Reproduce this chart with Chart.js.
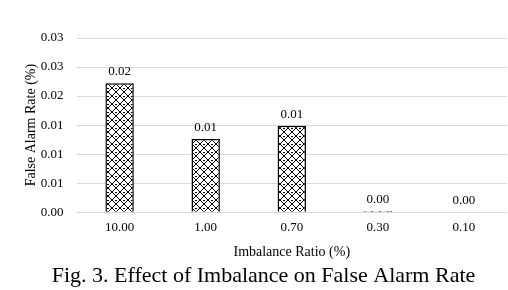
<!DOCTYPE html>
<html>
<head>
<meta charset="utf-8">
<script src="https://cdn.jsdelivr.net/npm/chart.js@4.4.0/dist/chart.umd.min.js"></script>
<style>
  html, body { margin: 0; padding: 0; background: #ffffff; }
  #wrap { width: 508px; height: 290px; position: relative; }
</style>
</head>
<body>
<div id="wrap"><canvas id="grafica"></canvas></div>
<script>
// Datos
const categorias = ['10.00', '1.00', '0.70', '0.30', '0.10'];
const tasaFalsaAlarma = [0.0222, 0.0126, 0.0149, 0.0002, 0.0];
const ticksY = [0, 0.005, 0.01, 0.015, 0.02, 0.025, 0.03];

const fuente = "'Liberation Serif', 'Times New Roman', serif";

// Patrón de rejilla cruzada para las barras
const crearPatron = () => {
    const n = 8;
    const c = document.createElement('canvas');
    c.width = n;
    c.height = n;
    const g = c.getContext('2d');
    g.fillStyle = '#ffffff';
    g.fillRect(0, 0, n, n);
    g.strokeStyle = '#000000';
    g.lineWidth = 1;
    g.beginPath();
    g.moveTo(0, 0); g.lineTo(n, n);
    g.moveTo(n, 0); g.lineTo(0, n);
    g.stroke();
    g.fillStyle = '#000000';
    g.fillRect(n / 2 - 1, 0, 2, 1);
    return g.createPattern(c, 'repeat');
};

// Etiquetas de valor encima de cada barra
const etiquetasValor = {
    id: 'etiquetasValor',
    afterDatasetsDraw(chart) {
        const ctx = chart.ctx;
        const meta = chart.getDatasetMeta(0);
        ctx.save();
        ctx.font = '13px ' + fuente;
        ctx.fillStyle = '#000000';
        ctx.textAlign = 'center';
        ctx.textBaseline = 'bottom';
        meta.data.forEach((barra, i) => {
            ctx.fillText(tasaFalsaAlarma[i].toFixed(2), barra.x, barra.y - 5);
        });
        ctx.restore();
    }
};

const ctx = document.getElementById('grafica').getContext('2d');

new Chart(ctx, {
    type: 'bar',
    data: {
        labels: categorias,
        datasets: [{
            data: tasaFalsaAlarma,
            backgroundColor: crearPatron(),
            borderColor: '#000000',
            borderWidth: 1.5,
            barPercentage: 1,
            categoryPercentage: 0.33
        }]
    },
    options: {
        responsive: true,
        maintainAspectRatio: false,
        animation: false,
        layout: {
            padding: { top: 38, left: 20, right: 1, bottom: 0 }
        },
        plugins: {
            legend: { display: false },
            tooltip: { enabled: false },
            title: {
                display: true,
                position: 'bottom',
                text: 'Fig. 3. Effect of Imbalance on False Alarm Rate',
                color: '#000000',
                font: { family: fuente, size: 22, weight: 'normal' },
                padding: { top: 2, bottom: 1 }
            }
        },
        scales: {
            x: {
                grid: { display: false, drawTicks: false },
                border: { display: false },
                ticks: {
                    color: '#000000',
                    font: { family: fuente, size: 13 },
                    padding: 8
                },
                title: {
                    display: true,
                    text: 'Imbalance Ratio (%)',
                    color: '#000000',
                    font: { family: fuente, size: 14 },
                    padding: { top: 0, bottom: 0 }
                }
            },
            y: {
                min: 0,
                max: 0.03,
                afterBuildTicks: (eje) => {
                    eje.ticks = ticksY.map(v => ({ value: v }));
                },
                grid: { color: '#d9d9d9', drawTicks: false },
                border: { display: false },
                ticks: {
                    color: '#000000',
                    font: { family: fuente, size: 13 },
                    padding: 13,
                    callback: (v) => Number(v).toFixed(2)
                },
                title: {
                    display: true,
                    text: 'False Alarm Rate (%)',
                    color: '#000000',
                    font: { family: fuente, size: 14 },
                    // el eje reserva el doble del padding de los ticks; se compensa aquí
                    padding: { top: 3, bottom: -12 }
                }
            }
        }
    },
    plugins: [etiquetasValor]
});
</script>
</body>
</html>
